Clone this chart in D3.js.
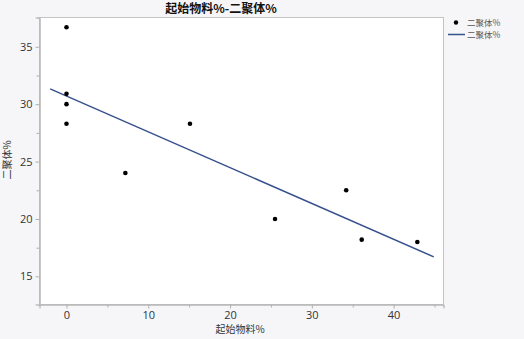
<!DOCTYPE html>
<html>
<head>
<meta charset="utf-8">
<script src="https://cdn.jsdelivr.net/npm/d3@7"></script>
<style>
  body { margin: 0; background: #f6f6f8; }
  svg { display: block; font-family: "Noto Sans CJK SC", "Noto Sans", sans-serif; }
</style>
</head>
<body>
<svg id="chart" width="524" height="339"></svg>
<script>
// data
const startMaterial = [0, 0, 0, 0, 7.2, 15.1, 25.5, 34.2, 36.1, 42.9];
const dimer = [36.7, 30.9, 30.0, 28.3, 24.0, 28.3, 20.0, 22.5, 18.2, 18.0];
const xTicks = [0, 10, 20, 30, 40];
const yTicks = [15, 20, 25, 30, 35];
const fitRange = [-2, 44.9];

const points = startMaterial.map((x, i) => ({ x: x, y: dimer[i] }));

// least squares fit
const mx = d3.mean(startMaterial), my = d3.mean(dimer);
const sxy = d3.sum(points, d => (d.x - mx) * (d.y - my));
const sxx = d3.sum(points, d => (d.x - mx) * (d.x - mx));
const slope = sxy / sxx, intercept = my - slope * mx;
const fitLine = fitRange.map(x => ({ x: x, y: intercept + slope * x }));

const margin = { left: 39.5, right: 80.5, top: 17.5, bottom: 34.5 };
const width = 524, height = 339;

const svg = d3.select("#chart");

const x = d3.scaleLinear().domain([-3.3, 46.1]).range([margin.left, width - margin.right]);
const y = d3.scaleLinear().domain([12.55, 37.55]).range([height - margin.bottom, margin.top]);

// plot background + frame
svg.append("rect")
    .attr("x", margin.left).attr("y", margin.top)
    .attr("width", width - margin.left - margin.right)
    .attr("height", height - margin.top - margin.bottom)
    .attr("fill", "#ffffff")
    .attr("stroke", "#c4c4c4")
    .attr("stroke-width", 1);

// minor ticks
const xAxisMinor = svg.append("g")
    .attr("transform", `translate(0,${height - margin.bottom})`)
    .call(d3.axisBottom(x).tickValues([5, 15, 25, 35, 45]).tickSize(3).tickFormat(""));
const yAxisMinor = svg.append("g")
    .attr("transform", `translate(${margin.left},0)`)
    .call(d3.axisLeft(y).tickValues([17.5, 22.5, 27.5, 32.5]).tickSize(3).tickFormat(""));

// major ticks
const xAxis = svg.append("g")
    .attr("transform", `translate(0,${height - margin.bottom})`)
    .call(d3.axisBottom(x).tickValues(xTicks).tickSize(4).tickPadding(3));
const yAxis = svg.append("g")
    .attr("transform", `translate(${margin.left},0)`)
    .call(d3.axisLeft(y).tickValues(yTicks).tickSize(4).tickPadding(3));

[xAxisMinor, yAxisMinor, xAxis, yAxis].forEach(g => {
    g.select(".domain").attr("stroke", "#b8b8b8");
    g.selectAll("line").attr("stroke", "#b0b0b0");
    g.selectAll("text").attr("fill", "#333").style("font-size", "11px")
        .style("font-family", "'Open Sans', sans-serif");
});

// fit line
svg.append("path")
    .datum(fitLine)
    .attr("fill", "none")
    .attr("stroke", "#37508e")
    .attr("stroke-width", 1.5)
    .attr("d", d3.line().x(d => x(d.x)).y(d => y(d.y)));

// points
svg.selectAll(".dot")
    .data(points)
    .enter()
    .append("circle")
    .attr("class", "dot")
    .attr("cx", d => x(d.x))
    .attr("cy", d => y(d.y))
    .attr("r", 2.3)
    .attr("fill", "#000");

// title and labels
svg.append("text")
    .attr("x", 221).attr("y", 13)
    .attr("text-anchor", "middle")
    .style("font-size", "12px")
    .style("font-weight", "bold")
    .attr("fill", "#111")
    .text("起始物料%-二聚体%");

svg.append("text")
    .attr("x", 240).attr("y", 333)
    .attr("text-anchor", "middle")
    .style("font-size", "10px")
    .attr("fill", "#333")
    .text("起始物料%");

svg.append("text")
    .attr("transform", "translate(11,160) rotate(-90)")
    .attr("text-anchor", "middle")
    .style("font-size", "10px")
    .attr("fill", "#333")
    .text("二聚体%");

// legend
const legendRows = [22.5, 34.5];
const legend = svg.append("g");
legend.append("circle").attr("cx", 456).attr("cy", legendRows[0]).attr("r", 2.2).attr("fill", "#000");
legend.append("line").attr("x1", 448).attr("x2", 465).attr("y1", legendRows[1]).attr("y2", legendRows[1])
    .attr("stroke", "#37508e").attr("stroke-width", 1.5);
legend.selectAll(".leg")
    .data(legendRows)
    .enter()
    .append("text")
    .attr("x", 467).attr("y", d => d + 3)
    .style("font-size", "8.5px")
    .attr("fill", "#555")
    .text("二聚体%");
</script>
</body>
</html>
